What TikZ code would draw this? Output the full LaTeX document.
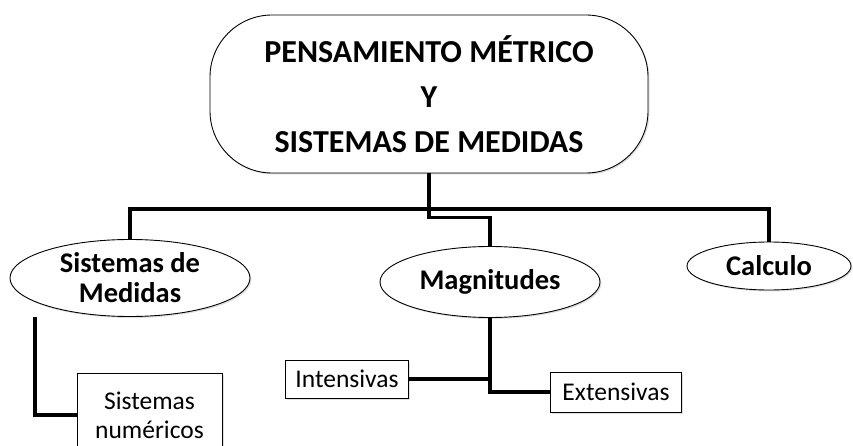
\documentclass[tikz,border=0pt]{standalone}
\usepackage{fontspec}
\setmainfont{Carlito}
\usepackage{tikz}
\usetikzlibrary{positioning, calc, shapes, shadows}
\tikzstyle{link} = [line width=3.6pt]
\tikzstyle{titlebox} = [draw, line width=0.9pt, fill=white, rounded corners=62pt, align=center, drop shadow={opacity=0.25, shadow xshift=1.5pt, shadow yshift=-1.5pt}]
\tikzstyle{oval} = [draw, ellipse, line width=0.9pt, fill=white, align=center, inner sep=0pt, drop shadow={opacity=0.25, shadow xshift=1.5pt, shadow yshift=-1.5pt}]
\tikzstyle{leaf} = [draw, rectangle, line width=0.9pt, fill=white, align=center, inner sep=0pt, drop shadow={opacity=0.25, shadow xshift=1.5pt, shadow yshift=-1.5pt}]

\begin{document}
\begin{tikzpicture}[x=1pt, y=-1pt]

    \useasboundingbox (0, 0) rectangle (853, 446);

    % Main title
    \node (top) [titlebox, minimum width=438pt, minimum height=158pt,
        font=\bfseries\fontsize{32}{45}\selectfont] at (429, 94)
        {PENSAMIENTO MÉTRICO\\Y\\SISTEMAS DE MEDIDAS};

    % Second level
    \node (sdm) [oval, minimum width=240pt, minimum height=77pt,
        font=\bfseries\fontsize{28.5}{30}\selectfont] at (130, 278) {Sistemas de\\Medidas};
    \node (mag) [oval, minimum width=220pt, minimum height=71pt,
        font=\bfseries\fontsize{28.5}{30}\selectfont] at (490, 282) {Magnitudes};
    \node (calc) [oval, minimum width=164pt, minimum height=48pt,
        font=\bfseries\fontsize{28.5}{30}\selectfont] at (769, 266) {Calculo};

    % Third level
    \node (num) [leaf, minimum width=145pt, minimum height=84pt,
        font=\fontsize{25.5}{29}\selectfont] at (149.5, 415) {Sistemas\\numéricos};
    \node (int) [leaf, minimum width=123pt, minimum height=38pt,
        font=\fontsize{25.5}{26}\selectfont] at (347, 379) {Intensivas};
    \node (ext) [leaf, minimum width=131pt, minimum height=40pt,
        font=\fontsize{25.5}{26}\selectfont] at (616, 392) {Extensivas};

    % The links
    \coordinate (s1) at ($(sdm.south) + (-95, 0)$);
    \draw [link] (sdm.north) -- ++(0, -30) -| (calc.north);
    \draw [link] (top.south) -- ++(0, 44) -| (mag.north);
    \draw [link] (s1) |- (num.west);
    \draw [link] (mag.south) |- (ext.west);
    \draw [link] (int.east) -- (int.east -| mag.south);

\end{tikzpicture}
\end{document}
